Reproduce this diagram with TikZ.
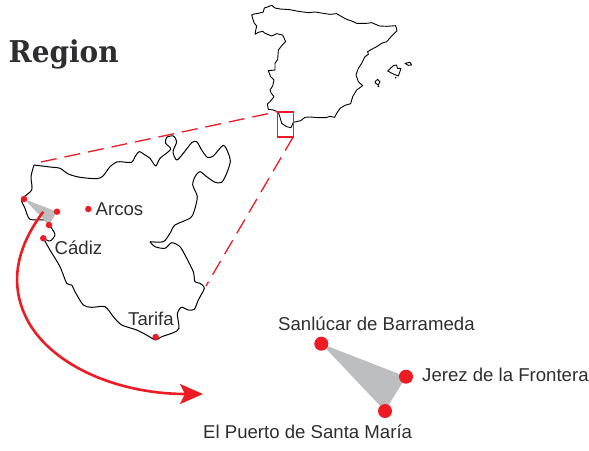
\documentclass[tikz,border=0pt]{standalone}
\usepackage{fontspec}
\setmainfont{Liberation Sans}
\newfontfamily\slabfont{DejaVu Serif}[BoldFont={DejaVu Serif Bold}]
\usetikzlibrary{arrows.meta}
\definecolor{mapred}{HTML}{ED1C24}
\definecolor{labelgrey}{HTML}{2E2E30}
\definecolor{wedge}{HTML}{BCBEC0}
\tikzset{
  lbl/.style={font=\fontsize{18.6}{20}\selectfont,text=labelgrey,inner sep=0pt,anchor=base west},
  smalldot/.style={circle,fill=mapred,draw=none,minimum size=6.5pt,inner sep=0pt},
  bigdot/.style={circle,fill=mapred,draw=none,minimum size=14pt,inner sep=0pt},
  outline/.style={draw=black,line width=1pt,line join=round},
  zoomline/.style={draw=mapred,line width=1.3pt,dash pattern=on 16pt off 8pt}
}
\begin{document}
\begin{tikzpicture}[x=1pt,y=-1pt]
\useasboundingbox (0,0) rectangle (589,450);
% Spain
\begin{scope}[shift={(230pt,0pt)},x=0.33333pt,y=-0.33333pt]
\draw[outline,line width=0.9pt] (65,45)--(72,42)--(85,40)--(100,36)--(103,24)--(115,20)--(125,16)--(135,24)--(150,27)--(180,29)--(205,34)--(235,38)--(255,36)--(280,40)--(300,43)--(320,41)--(335,50)--(350,58)--(365,63)--(380,70)--(410,70)--(425,68)--(437,73)--(448,78)--(470,79)--(497,77)--(501,92)--(485,108)--(470,125)--(455,130)--(440,140)--(425,148)--(413,155)--(415,163)--(405,170)--(395,190)--(385,205)--(378,225)--(385,245)--(398,257)--(380,270)--(368,290)--(362,311)--(345,316)--(330,325)--(320,340)--(314,352)--(300,349)--(288,353)--(265,353)--(240,351)--(225,352)--(212,362)--(190,367)--(183,383)--(170,380)--(155,370)--(150,352)--(145,336)--(130,330)--(115,328)--(112,312)--(120,305)--(132,290)--(124,280)--(120,270)--(128,258)--(132,240)--(122,230)--(115,212)--(135,210)--(135,190)--(143,178)--(145,150)--(157,135)--(167,125)--(158,105)--(140,101)--(125,108)--(105,100)--(98,94)--(85,97)--(75,103)--(77,92)--(80,78)--(72,68)--cycle;
\draw[outline,line width=0.9pt] (473,213)--(490,197)--(500,195)--(502,205)--(513,205)--(505,228)--(490,222)--cycle;
\draw[outline,line width=0.9pt] (525,190)--(540,187)--(545,195)--(535,196)--cycle;
\draw[outline,line width=0.9pt] (435,245)--(443,238)--(450,245)--(445,255)--(437,250)--cycle;
\fill (445,259) circle (1pt);
\fill (497,233) circle (0.8pt);
\end{scope}
% Province
\draw[outline] plot[smooth,tension=0.45] coordinates {(34,165)(50,167)(60,168.3)(68.3,174)(80,177.3)(96.7,178.7)(103,176)(110,166.7)(116.7,162)(120,161.7)(131.7,162.3)(135,156.7)(139.3,151.7)(145,155)(150,158.3)(155.7,166)(160,158.3)(170.7,149.3)(165.7,143.3)(166.7,137.3)(173.3,136)(176.7,141.7)(173,151.7)(176.7,160)(183.3,153.3)(191.7,142.7)(196.7,141.7)(201.7,150)(207.3,157.3)(213.3,156)(223.3,145.3)(228.3,153.3)(230.3,161.7)(226.7,173.3)(221.7,182.3)(215,182.3)(206.7,176.7)(200,171.7)(195,176.7)(192.7,185)(197.3,196.7)(194,211.7)(190,218.3)(175,225)(170,233.3)(163.3,241.7)(150,241.7)};
\draw[outline] plot[smooth,tension=0.45] coordinates {(150,241.7)(155,246.7)(165,248.3)(171.7,242.7)(180,246.7)(186.7,258.3)(193.3,271.7)(195,281.7)(200,283.3)(204.3,288.3)(198.3,300)(194.3,309.3)(188.3,310)(181.7,307.3)(177.3,313.3)(179,328.3)(173.3,332.7)(161.7,336.7)(155.7,340)(148.3,336)(136.7,330)(121.7,325)(113.3,316.7)(105,306.7)(91.7,307.3)(83.3,305)(75,291.7)(71.7,285)(66.7,283.3)(60,266.7)(50,250)(43.3,238.3)};
\draw[outline] plot[smooth,tension=0.45] coordinates {(43.3,238.3)(50,241)(55,235)(51.7,228.3)(49,225)(45,220)(30,219.3)(25,208.3)(21.7,199.3)(31.7,190)(31,176.7)(34,165)};
% Title
\node[inner sep=0pt,anchor=base west,text=labelgrey,xscale=0.93] (title) at (8.5,62) {\slabfont\bfseries\fontsize{30}{31}\selectfont Region};
% Zoom frame
\draw[draw=mapred,line width=1.6pt] (277.3,111.7) rectangle (293.3,136.7);
\coordinate (zoomtopA) at (41,162);
\coordinate (zoomtopB) at (277.3,111.7);
\coordinate (zoomlowA) at (293.3,136.7);
\coordinate (zoomlowB) at (206,286);
\draw[zoomline] (zoomtopA) -- (zoomtopB);
\draw[zoomline] (zoomlowA) -- (zoomlowB);
% Small triangle
\coordinate (ts) at (24,199);
\coordinate (tj) at (57,211.7);
\coordinate (tp) at (49,225);
\fill[wedge] (ts) -- (tj) -- (tp) -- cycle;
% Small dots
\node[smalldot] (sanlucar) at (ts) {};
\node[smalldot] (jerez) at (tj) {};
\node[smalldot] (puerto) at (tp) {};
\node[smalldot] (cadizdot) at (43.3,238.3) {};
\node[smalldot] (arcosdot) at (88.3,209) {};
\node[smalldot] (tarifadot) at (155.7,337) {};
\node[lbl] (arcos) at (95.5,215) {Arcos};
\node[lbl] (cadiz) at (54.5,254) {Cádiz};
\node[lbl] (tarifa) at (128,325) {Tarifa};
% Arrow
\coordinate (arrstart) at (43.3,211.7);
\coordinate (arrmid) at (24,313);
\coordinate (arrend) at (203,394);
\draw[draw=mapred,line width=2.6pt,-{Stealth[length=23pt,width=20pt,inset=5pt]}] (arrstart) .. controls (22,240) and (8,275) .. (arrmid) .. controls (45,363) and (115,394) .. (arrend);
% Enlarged triangle
\coordinate (bs) at (321.3,343.7);
\coordinate (bj) at (406,376.7);
\coordinate (bp) at (385,411);
\fill[wedge] (bs) -- (bj) -- (bp) -- cycle;
\node[bigdot] (bigS) at (bs) {};
\node[bigdot] (bigJ) at (bj) {};
\node[bigdot] (bigP) at (bp) {};
\node[lbl] (lS) at (278,330) {Sanlúcar de Barrameda};
\node[lbl] (lJ) at (422,381) {Jerez de la Frontera};
\node[lbl] (lP) at (203,438) {El Puerto de Santa María};
\end{tikzpicture}
\end{document}
